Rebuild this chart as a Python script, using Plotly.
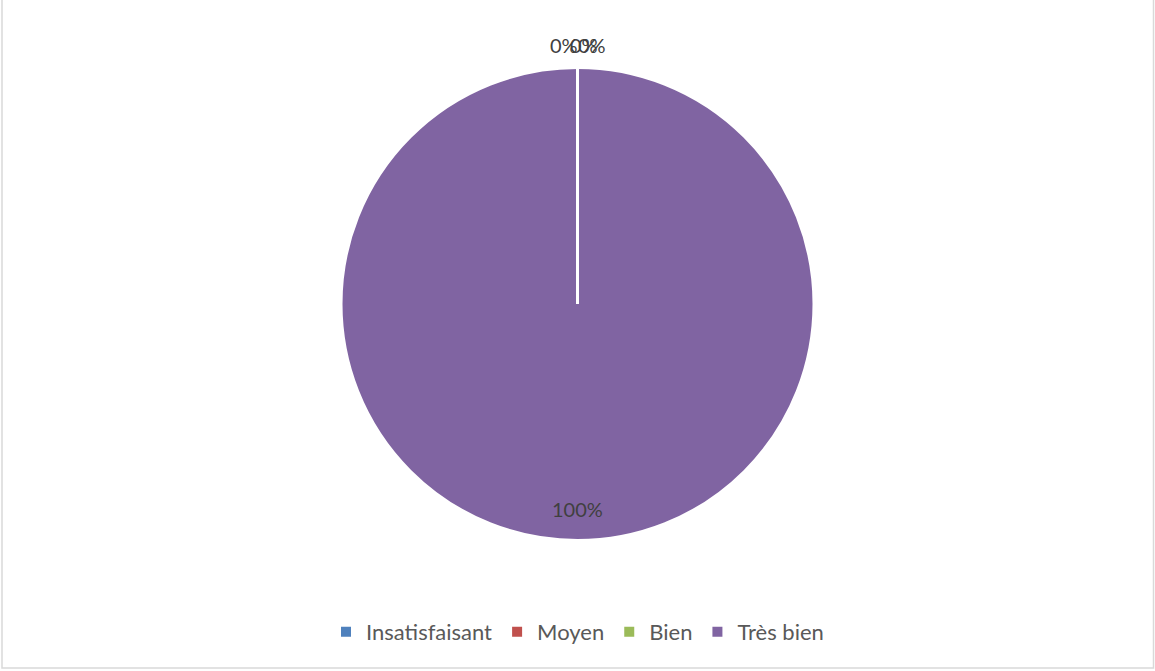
import math
import plotly.graph_objects as go

categories = ["Insatisfaisant", "Moyen", "Bien", "Très bien"]
values = [0, 0, 0, 100]
colors = ["#4F81BD", "#C0504D", "#9BBB59", "#8064A2"]
label_xshift = [-14, 6, 14, 0]  # Excel's overlapping label offsets (style)

W, H = 1155, 671
top_m, bot_m = 68, 131
plot_h = H - top_m - bot_m
R = plot_h / 2  # pie radius in px

fig = go.Figure(go.Pie(
    labels=categories,
    values=values,
    sort=False,
    direction="clockwise",
    rotation=0,
    marker=dict(colors=colors, line=dict(color="white", width=2)),
    textinfo="none",
    showlegend=True,
    hoverinfo="label+percent",
))

# data labels placed from slice angles
total = sum(values)
annotations = []
cum = 0
for v, xs in zip(values, label_xshift):
    mid = (cum + v / 2) / total * 2 * math.pi
    cum += v
    r = R + 23 if v == 0 else 0.87 * R
    px = r * math.sin(mid)
    py = r * math.cos(mid)
    annotations.append(dict(
        x=0.5 + px / W, y=0.5 + py / plot_h, xref="paper", yref="paper",
        text=f"{v / total:.0%}", showarrow=False, xshift=xs,
        xanchor="center", yanchor="middle",
        font=dict(family="Lato, sans-serif", size=20, color="#404040"),
    ))

fig.update_layout(
    width=W, height=H,
    margin=dict(l=0, r=0, t=top_m, b=bot_m, autoexpand=False),
    paper_bgcolor="white",
    plot_bgcolor="white",
    legend=dict(
        orientation="h", x=0.5, xanchor="center", y=-(632 - (H - bot_m)) / plot_h,
        yanchor="middle",
        font=dict(family="Lato, sans-serif", size=22, color="#595959"),
        itemwidth=30,
    ),
    annotations=annotations,
    shapes=[
        dict(type="rect", xref="paper", yref="paper",
             x0=2 / W, x1=(W - 1.5) / W,
             y0=-(668 - (H - bot_m)) / plot_h,
             y1=1 + (top_m + 1) / plot_h,
             line=dict(color="#D9D9D9", width=1.5), fillcolor="rgba(0,0,0,0)"),
        dict(type="line", xref="paper", yref="paper",
             x0=0.5, x1=0.5, y0=0.5, y1=1.0,
             line=dict(color="white", width=3)),
    ],
)

fig.write_html(
    "out.html",
    config={"displayModeBar": False},
    post_script="document.body.style.margin='0';document.body.style.overflow='hidden';",
)
